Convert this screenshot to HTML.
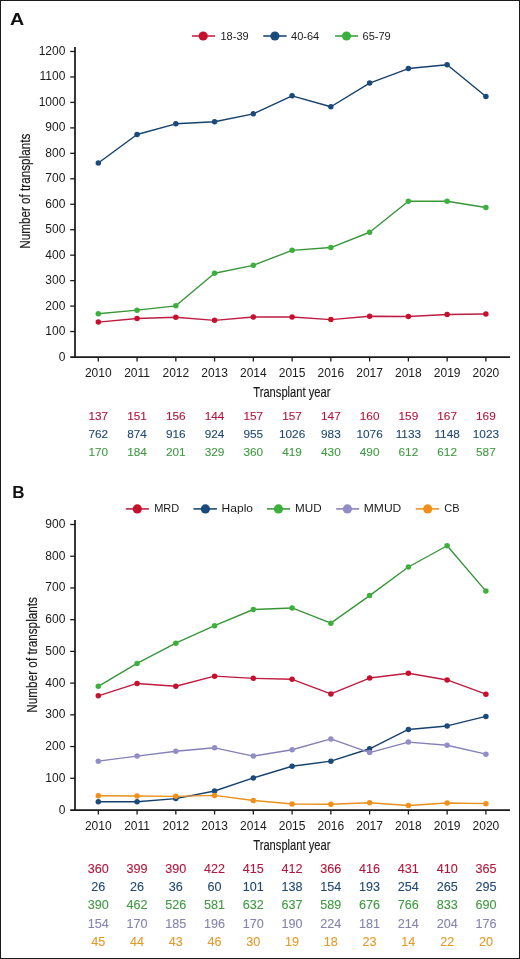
<!DOCTYPE html>
<html><head><meta charset="utf-8"><style>
html,body{margin:0;padding:0;background:#fff;}
body{width:520px;height:959px;overflow:hidden;}
svg{display:block;font-family:"Liberation Sans", sans-serif;will-change:transform;}
</style></head><body>
<svg width="520" height="959" viewBox="0 0 520 959">
<rect x="0.5" y="0.5" width="519" height="958" fill="#fff" stroke="#1a1a1a" stroke-width="1"/>
<text x="10.0" y="24.8" font-size="17" font-weight="bold" textLength="14.2" lengthAdjust="spacingAndGlyphs" fill="#111">A</text>
<line x1="192" y1="36" x2="215" y2="36" stroke="#bd1b40" stroke-width="1.7" stroke-opacity="0.9"/>
<circle cx="203.2" cy="36" r="4.6" fill="#c6102e"/>
<text x="220.5" y="39.8" font-size="11" fill="#1a1a1a">18-39</text>
<line x1="263.3" y1="36" x2="286.6" y2="36" stroke="#15406c" stroke-width="1.7" stroke-opacity="0.9"/>
<circle cx="274.9" cy="36" r="4.6" fill="#1a4a7c"/>
<text x="291.1" y="39.8" font-size="11" fill="#1a1a1a">40-64</text>
<line x1="335.1" y1="36" x2="358" y2="36" stroke="#389538" stroke-width="1.7" stroke-opacity="0.9"/>
<circle cx="346.5" cy="36" r="4.6" fill="#3cb03c"/>
<text x="362.6" y="39.8" font-size="11" fill="#1a1a1a">65-79</text>
<line x1="75" y1="47.1" x2="75" y2="357.9" stroke="#1a1a1a" stroke-width="1.75"/>
<line x1="70.2" y1="357.0" x2="510" y2="357.0" stroke="#1a1a1a" stroke-width="1.75"/>
<text x="65.4" y="360.50" font-size="12" text-anchor="end" fill="#1a1a1a">0</text>
<line x1="70.2" y1="331.54" x2="75" y2="331.54" stroke="#1a1a1a" stroke-width="1.3"/>
<text x="65.4" y="335.04" font-size="12" text-anchor="end" fill="#1a1a1a">100</text>
<line x1="70.2" y1="306.08" x2="75" y2="306.08" stroke="#1a1a1a" stroke-width="1.3"/>
<text x="65.4" y="309.58" font-size="12" text-anchor="end" fill="#1a1a1a">200</text>
<line x1="70.2" y1="280.62" x2="75" y2="280.62" stroke="#1a1a1a" stroke-width="1.3"/>
<text x="65.4" y="284.12" font-size="12" text-anchor="end" fill="#1a1a1a">300</text>
<line x1="70.2" y1="255.17" x2="75" y2="255.17" stroke="#1a1a1a" stroke-width="1.3"/>
<text x="65.4" y="258.67" font-size="12" text-anchor="end" fill="#1a1a1a">400</text>
<line x1="70.2" y1="229.71" x2="75" y2="229.71" stroke="#1a1a1a" stroke-width="1.3"/>
<text x="65.4" y="233.21" font-size="12" text-anchor="end" fill="#1a1a1a">500</text>
<line x1="70.2" y1="204.25" x2="75" y2="204.25" stroke="#1a1a1a" stroke-width="1.3"/>
<text x="65.4" y="207.75" font-size="12" text-anchor="end" fill="#1a1a1a">600</text>
<line x1="70.2" y1="178.79" x2="75" y2="178.79" stroke="#1a1a1a" stroke-width="1.3"/>
<text x="65.4" y="182.29" font-size="12" text-anchor="end" fill="#1a1a1a">700</text>
<line x1="70.2" y1="153.33" x2="75" y2="153.33" stroke="#1a1a1a" stroke-width="1.3"/>
<text x="65.4" y="156.83" font-size="12" text-anchor="end" fill="#1a1a1a">800</text>
<line x1="70.2" y1="127.88" x2="75" y2="127.88" stroke="#1a1a1a" stroke-width="1.3"/>
<text x="65.4" y="131.38" font-size="12" text-anchor="end" fill="#1a1a1a">900</text>
<line x1="70.2" y1="102.42" x2="75" y2="102.42" stroke="#1a1a1a" stroke-width="1.3"/>
<text x="65.4" y="105.92" font-size="12" text-anchor="end" fill="#1a1a1a">1000</text>
<line x1="70.2" y1="76.96" x2="75" y2="76.96" stroke="#1a1a1a" stroke-width="1.3"/>
<text x="65.4" y="80.46" font-size="12" text-anchor="end" fill="#1a1a1a">1100</text>
<line x1="70.2" y1="51.50" x2="75" y2="51.50" stroke="#1a1a1a" stroke-width="1.3"/>
<text x="65.4" y="55.00" font-size="12" text-anchor="end" fill="#1a1a1a">1200</text>
<line x1="98.30" y1="357.0" x2="98.30" y2="361.5" stroke="#1a1a1a" stroke-width="1.3"/>
<text x="98.30" y="376.7" font-size="12" text-anchor="middle" fill="#1a1a1a">2010</text>
<line x1="137.06" y1="357.0" x2="137.06" y2="361.5" stroke="#1a1a1a" stroke-width="1.3"/>
<text x="137.06" y="376.7" font-size="12" text-anchor="middle" fill="#1a1a1a">2011</text>
<line x1="175.82" y1="357.0" x2="175.82" y2="361.5" stroke="#1a1a1a" stroke-width="1.3"/>
<text x="175.82" y="376.7" font-size="12" text-anchor="middle" fill="#1a1a1a">2012</text>
<line x1="214.58" y1="357.0" x2="214.58" y2="361.5" stroke="#1a1a1a" stroke-width="1.3"/>
<text x="214.58" y="376.7" font-size="12" text-anchor="middle" fill="#1a1a1a">2013</text>
<line x1="253.34" y1="357.0" x2="253.34" y2="361.5" stroke="#1a1a1a" stroke-width="1.3"/>
<text x="253.34" y="376.7" font-size="12" text-anchor="middle" fill="#1a1a1a">2014</text>
<line x1="292.10" y1="357.0" x2="292.10" y2="361.5" stroke="#1a1a1a" stroke-width="1.3"/>
<text x="292.10" y="376.7" font-size="12" text-anchor="middle" fill="#1a1a1a">2015</text>
<line x1="330.86" y1="357.0" x2="330.86" y2="361.5" stroke="#1a1a1a" stroke-width="1.3"/>
<text x="330.86" y="376.7" font-size="12" text-anchor="middle" fill="#1a1a1a">2016</text>
<line x1="369.62" y1="357.0" x2="369.62" y2="361.5" stroke="#1a1a1a" stroke-width="1.3"/>
<text x="369.62" y="376.7" font-size="12" text-anchor="middle" fill="#1a1a1a">2017</text>
<line x1="408.38" y1="357.0" x2="408.38" y2="361.5" stroke="#1a1a1a" stroke-width="1.3"/>
<text x="408.38" y="376.7" font-size="12" text-anchor="middle" fill="#1a1a1a">2018</text>
<line x1="447.14" y1="357.0" x2="447.14" y2="361.5" stroke="#1a1a1a" stroke-width="1.3"/>
<text x="447.14" y="376.7" font-size="12" text-anchor="middle" fill="#1a1a1a">2019</text>
<line x1="485.90" y1="357.0" x2="485.90" y2="361.5" stroke="#1a1a1a" stroke-width="1.3"/>
<text x="485.90" y="376.7" font-size="12" text-anchor="middle" fill="#1a1a1a">2020</text>
<text x="253.3" y="396.6" font-size="14" textLength="77.1" lengthAdjust="spacingAndGlyphs" fill="#1a1a1a" stroke="#1a1a1a" stroke-width="0.15">Transplant year</text>
<text transform="translate(29.6,248.75) rotate(-90)" x="0" y="0" font-size="15.3" textLength="115.00" lengthAdjust="spacingAndGlyphs" fill="#1a1a1a" stroke="#1a1a1a" stroke-width="0.2">Number of transplants</text>
<polyline points="98.30,322.12 137.06,318.56 175.82,317.29 214.58,320.34 253.34,317.03 292.10,317.03 330.86,319.58 369.62,316.27 408.38,316.52 447.14,314.48 485.90,313.98" fill="none" stroke="#bd1b40" stroke-width="1.4" stroke-linejoin="round"/>
<circle cx="98.30" cy="322.12" r="2.75" fill="#c6102e"/>
<circle cx="137.06" cy="318.56" r="2.75" fill="#c6102e"/>
<circle cx="175.82" cy="317.29" r="2.75" fill="#c6102e"/>
<circle cx="214.58" cy="320.34" r="2.75" fill="#c6102e"/>
<circle cx="253.34" cy="317.03" r="2.75" fill="#c6102e"/>
<circle cx="292.10" cy="317.03" r="2.75" fill="#c6102e"/>
<circle cx="330.86" cy="319.58" r="2.75" fill="#c6102e"/>
<circle cx="369.62" cy="316.27" r="2.75" fill="#c6102e"/>
<circle cx="408.38" cy="316.52" r="2.75" fill="#c6102e"/>
<circle cx="447.14" cy="314.48" r="2.75" fill="#c6102e"/>
<circle cx="485.90" cy="313.98" r="2.75" fill="#c6102e"/>
<polyline points="98.30,163.01 137.06,134.49 175.82,123.80 214.58,121.77 253.34,113.87 292.10,95.80 330.86,106.74 369.62,83.07 408.38,68.56 447.14,64.74 485.90,96.56" fill="none" stroke="#15406c" stroke-width="1.4" stroke-linejoin="round"/>
<circle cx="98.30" cy="163.01" r="2.75" fill="#1a4a7c"/>
<circle cx="137.06" cy="134.49" r="2.75" fill="#1a4a7c"/>
<circle cx="175.82" cy="123.80" r="2.75" fill="#1a4a7c"/>
<circle cx="214.58" cy="121.77" r="2.75" fill="#1a4a7c"/>
<circle cx="253.34" cy="113.87" r="2.75" fill="#1a4a7c"/>
<circle cx="292.10" cy="95.80" r="2.75" fill="#1a4a7c"/>
<circle cx="330.86" cy="106.74" r="2.75" fill="#1a4a7c"/>
<circle cx="369.62" cy="83.07" r="2.75" fill="#1a4a7c"/>
<circle cx="408.38" cy="68.56" r="2.75" fill="#1a4a7c"/>
<circle cx="447.14" cy="64.74" r="2.75" fill="#1a4a7c"/>
<circle cx="485.90" cy="96.56" r="2.75" fill="#1a4a7c"/>
<polyline points="98.30,313.72 137.06,310.16 175.82,305.83 214.58,273.24 253.34,265.35 292.10,250.33 330.86,247.53 369.62,232.25 408.38,201.19 447.14,201.19 485.90,207.56" fill="none" stroke="#389538" stroke-width="1.4" stroke-linejoin="round"/>
<circle cx="98.30" cy="313.72" r="2.75" fill="#3cb03c"/>
<circle cx="137.06" cy="310.16" r="2.75" fill="#3cb03c"/>
<circle cx="175.82" cy="305.83" r="2.75" fill="#3cb03c"/>
<circle cx="214.58" cy="273.24" r="2.75" fill="#3cb03c"/>
<circle cx="253.34" cy="265.35" r="2.75" fill="#3cb03c"/>
<circle cx="292.10" cy="250.33" r="2.75" fill="#3cb03c"/>
<circle cx="330.86" cy="247.53" r="2.75" fill="#3cb03c"/>
<circle cx="369.62" cy="232.25" r="2.75" fill="#3cb03c"/>
<circle cx="408.38" cy="201.19" r="2.75" fill="#3cb03c"/>
<circle cx="447.14" cy="201.19" r="2.75" fill="#3cb03c"/>
<circle cx="485.90" cy="207.56" r="2.75" fill="#3cb03c"/>
<text x="98.30" y="420.3" font-size="11.8" text-anchor="middle" fill="#b3153c" stroke="#b3153c" stroke-width="0.1">137</text>
<text x="137.06" y="420.3" font-size="11.8" text-anchor="middle" fill="#b3153c" stroke="#b3153c" stroke-width="0.1">151</text>
<text x="175.82" y="420.3" font-size="11.8" text-anchor="middle" fill="#b3153c" stroke="#b3153c" stroke-width="0.1">156</text>
<text x="214.58" y="420.3" font-size="11.8" text-anchor="middle" fill="#b3153c" stroke="#b3153c" stroke-width="0.1">144</text>
<text x="253.34" y="420.3" font-size="11.8" text-anchor="middle" fill="#b3153c" stroke="#b3153c" stroke-width="0.1">157</text>
<text x="292.10" y="420.3" font-size="11.8" text-anchor="middle" fill="#b3153c" stroke="#b3153c" stroke-width="0.1">157</text>
<text x="330.86" y="420.3" font-size="11.8" text-anchor="middle" fill="#b3153c" stroke="#b3153c" stroke-width="0.1">147</text>
<text x="369.62" y="420.3" font-size="11.8" text-anchor="middle" fill="#b3153c" stroke="#b3153c" stroke-width="0.1">160</text>
<text x="408.38" y="420.3" font-size="11.8" text-anchor="middle" fill="#b3153c" stroke="#b3153c" stroke-width="0.1">159</text>
<text x="447.14" y="420.3" font-size="11.8" text-anchor="middle" fill="#b3153c" stroke="#b3153c" stroke-width="0.1">167</text>
<text x="485.90" y="420.3" font-size="11.8" text-anchor="middle" fill="#b3153c" stroke="#b3153c" stroke-width="0.1">169</text>
<text x="98.30" y="438.4" font-size="11.8" text-anchor="middle" fill="#1f4872" stroke="#1f4872" stroke-width="0.1">762</text>
<text x="137.06" y="438.4" font-size="11.8" text-anchor="middle" fill="#1f4872" stroke="#1f4872" stroke-width="0.1">874</text>
<text x="175.82" y="438.4" font-size="11.8" text-anchor="middle" fill="#1f4872" stroke="#1f4872" stroke-width="0.1">916</text>
<text x="214.58" y="438.4" font-size="11.8" text-anchor="middle" fill="#1f4872" stroke="#1f4872" stroke-width="0.1">924</text>
<text x="253.34" y="438.4" font-size="11.8" text-anchor="middle" fill="#1f4872" stroke="#1f4872" stroke-width="0.1">955</text>
<text x="292.10" y="438.4" font-size="11.8" text-anchor="middle" fill="#1f4872" stroke="#1f4872" stroke-width="0.1">1026</text>
<text x="330.86" y="438.4" font-size="11.8" text-anchor="middle" fill="#1f4872" stroke="#1f4872" stroke-width="0.1">983</text>
<text x="369.62" y="438.4" font-size="11.8" text-anchor="middle" fill="#1f4872" stroke="#1f4872" stroke-width="0.1">1076</text>
<text x="408.38" y="438.4" font-size="11.8" text-anchor="middle" fill="#1f4872" stroke="#1f4872" stroke-width="0.1">1133</text>
<text x="447.14" y="438.4" font-size="11.8" text-anchor="middle" fill="#1f4872" stroke="#1f4872" stroke-width="0.1">1148</text>
<text x="485.90" y="438.4" font-size="11.8" text-anchor="middle" fill="#1f4872" stroke="#1f4872" stroke-width="0.1">1023</text>
<text x="98.30" y="456.4" font-size="11.8" text-anchor="middle" fill="#3f9a42" stroke="#3f9a42" stroke-width="0.1">170</text>
<text x="137.06" y="456.4" font-size="11.8" text-anchor="middle" fill="#3f9a42" stroke="#3f9a42" stroke-width="0.1">184</text>
<text x="175.82" y="456.4" font-size="11.8" text-anchor="middle" fill="#3f9a42" stroke="#3f9a42" stroke-width="0.1">201</text>
<text x="214.58" y="456.4" font-size="11.8" text-anchor="middle" fill="#3f9a42" stroke="#3f9a42" stroke-width="0.1">329</text>
<text x="253.34" y="456.4" font-size="11.8" text-anchor="middle" fill="#3f9a42" stroke="#3f9a42" stroke-width="0.1">360</text>
<text x="292.10" y="456.4" font-size="11.8" text-anchor="middle" fill="#3f9a42" stroke="#3f9a42" stroke-width="0.1">419</text>
<text x="330.86" y="456.4" font-size="11.8" text-anchor="middle" fill="#3f9a42" stroke="#3f9a42" stroke-width="0.1">430</text>
<text x="369.62" y="456.4" font-size="11.8" text-anchor="middle" fill="#3f9a42" stroke="#3f9a42" stroke-width="0.1">490</text>
<text x="408.38" y="456.4" font-size="11.8" text-anchor="middle" fill="#3f9a42" stroke="#3f9a42" stroke-width="0.1">612</text>
<text x="447.14" y="456.4" font-size="11.8" text-anchor="middle" fill="#3f9a42" stroke="#3f9a42" stroke-width="0.1">612</text>
<text x="485.90" y="456.4" font-size="11.8" text-anchor="middle" fill="#3f9a42" stroke="#3f9a42" stroke-width="0.1">587</text>
<text x="12.2" y="497.7" font-size="17" font-weight="bold" textLength="12.3" lengthAdjust="spacingAndGlyphs" fill="#111">B</text>
<line x1="125.8" y1="508.9" x2="148.9" y2="508.9" stroke="#bd1b40" stroke-width="1.7" stroke-opacity="0.9"/>
<circle cx="137.3" cy="508.9" r="4.6" fill="#c6102e"/>
<text x="154.2" y="512" font-size="11" fill="#1a1a1a">MRD</text>
<line x1="193.4" y1="508.9" x2="216.9" y2="508.9" stroke="#15406c" stroke-width="1.7" stroke-opacity="0.9"/>
<circle cx="205.4" cy="508.9" r="4.6" fill="#1a4a7c"/>
<text x="221.6" y="512" font-size="11" fill="#1a1a1a" textLength="31.4" lengthAdjust="spacingAndGlyphs">Haplo</text>
<line x1="266.9" y1="508.9" x2="290" y2="508.9" stroke="#389538" stroke-width="1.7" stroke-opacity="0.9"/>
<circle cx="278.5" cy="508.9" r="4.6" fill="#3cb03c"/>
<text x="295.0" y="512" font-size="11" fill="#1a1a1a" textLength="26.6" lengthAdjust="spacingAndGlyphs">MUD</text>
<line x1="336.2" y1="508.9" x2="359.2" y2="508.9" stroke="#8480b8" stroke-width="1.7" stroke-opacity="0.9"/>
<circle cx="347.4" cy="508.9" r="4.6" fill="#918dc6"/>
<text x="363.8" y="512" font-size="11" fill="#1a1a1a" textLength="37.5" lengthAdjust="spacingAndGlyphs">MMUD</text>
<line x1="415.8" y1="508.9" x2="439.2" y2="508.9" stroke="#e8901e" stroke-width="1.7" stroke-opacity="0.9"/>
<circle cx="427.7" cy="508.9" r="4.6" fill="#f0901a"/>
<text x="444.2" y="512" font-size="11" fill="#1a1a1a">CB</text>
<line x1="75" y1="520.1" x2="75" y2="810.9" stroke="#1a1a1a" stroke-width="1.75"/>
<line x1="70.2" y1="810.0" x2="510" y2="810.0" stroke="#1a1a1a" stroke-width="1.75"/>
<text x="65.4" y="813.50" font-size="12" text-anchor="end" fill="#1a1a1a">0</text>
<line x1="70.2" y1="778.28" x2="75" y2="778.28" stroke="#1a1a1a" stroke-width="1.3"/>
<text x="65.4" y="781.78" font-size="12" text-anchor="end" fill="#1a1a1a">100</text>
<line x1="70.2" y1="746.56" x2="75" y2="746.56" stroke="#1a1a1a" stroke-width="1.3"/>
<text x="65.4" y="750.06" font-size="12" text-anchor="end" fill="#1a1a1a">200</text>
<line x1="70.2" y1="714.83" x2="75" y2="714.83" stroke="#1a1a1a" stroke-width="1.3"/>
<text x="65.4" y="718.33" font-size="12" text-anchor="end" fill="#1a1a1a">300</text>
<line x1="70.2" y1="683.11" x2="75" y2="683.11" stroke="#1a1a1a" stroke-width="1.3"/>
<text x="65.4" y="686.61" font-size="12" text-anchor="end" fill="#1a1a1a">400</text>
<line x1="70.2" y1="651.39" x2="75" y2="651.39" stroke="#1a1a1a" stroke-width="1.3"/>
<text x="65.4" y="654.89" font-size="12" text-anchor="end" fill="#1a1a1a">500</text>
<line x1="70.2" y1="619.67" x2="75" y2="619.67" stroke="#1a1a1a" stroke-width="1.3"/>
<text x="65.4" y="623.17" font-size="12" text-anchor="end" fill="#1a1a1a">600</text>
<line x1="70.2" y1="587.94" x2="75" y2="587.94" stroke="#1a1a1a" stroke-width="1.3"/>
<text x="65.4" y="591.44" font-size="12" text-anchor="end" fill="#1a1a1a">700</text>
<line x1="70.2" y1="556.22" x2="75" y2="556.22" stroke="#1a1a1a" stroke-width="1.3"/>
<text x="65.4" y="559.72" font-size="12" text-anchor="end" fill="#1a1a1a">800</text>
<line x1="70.2" y1="524.50" x2="75" y2="524.50" stroke="#1a1a1a" stroke-width="1.3"/>
<text x="65.4" y="528.00" font-size="12" text-anchor="end" fill="#1a1a1a">900</text>
<line x1="98.30" y1="810.0" x2="98.30" y2="814.5" stroke="#1a1a1a" stroke-width="1.3"/>
<text x="98.30" y="829.8" font-size="12" text-anchor="middle" fill="#1a1a1a">2010</text>
<line x1="137.06" y1="810.0" x2="137.06" y2="814.5" stroke="#1a1a1a" stroke-width="1.3"/>
<text x="137.06" y="829.8" font-size="12" text-anchor="middle" fill="#1a1a1a">2011</text>
<line x1="175.82" y1="810.0" x2="175.82" y2="814.5" stroke="#1a1a1a" stroke-width="1.3"/>
<text x="175.82" y="829.8" font-size="12" text-anchor="middle" fill="#1a1a1a">2012</text>
<line x1="214.58" y1="810.0" x2="214.58" y2="814.5" stroke="#1a1a1a" stroke-width="1.3"/>
<text x="214.58" y="829.8" font-size="12" text-anchor="middle" fill="#1a1a1a">2013</text>
<line x1="253.34" y1="810.0" x2="253.34" y2="814.5" stroke="#1a1a1a" stroke-width="1.3"/>
<text x="253.34" y="829.8" font-size="12" text-anchor="middle" fill="#1a1a1a">2014</text>
<line x1="292.10" y1="810.0" x2="292.10" y2="814.5" stroke="#1a1a1a" stroke-width="1.3"/>
<text x="292.10" y="829.8" font-size="12" text-anchor="middle" fill="#1a1a1a">2015</text>
<line x1="330.86" y1="810.0" x2="330.86" y2="814.5" stroke="#1a1a1a" stroke-width="1.3"/>
<text x="330.86" y="829.8" font-size="12" text-anchor="middle" fill="#1a1a1a">2016</text>
<line x1="369.62" y1="810.0" x2="369.62" y2="814.5" stroke="#1a1a1a" stroke-width="1.3"/>
<text x="369.62" y="829.8" font-size="12" text-anchor="middle" fill="#1a1a1a">2017</text>
<line x1="408.38" y1="810.0" x2="408.38" y2="814.5" stroke="#1a1a1a" stroke-width="1.3"/>
<text x="408.38" y="829.8" font-size="12" text-anchor="middle" fill="#1a1a1a">2018</text>
<line x1="447.14" y1="810.0" x2="447.14" y2="814.5" stroke="#1a1a1a" stroke-width="1.3"/>
<text x="447.14" y="829.8" font-size="12" text-anchor="middle" fill="#1a1a1a">2019</text>
<line x1="485.90" y1="810.0" x2="485.90" y2="814.5" stroke="#1a1a1a" stroke-width="1.3"/>
<text x="485.90" y="829.8" font-size="12" text-anchor="middle" fill="#1a1a1a">2020</text>
<text x="253.3" y="849.6" font-size="14" textLength="77.1" lengthAdjust="spacingAndGlyphs" fill="#1a1a1a" stroke="#1a1a1a" stroke-width="0.15">Transplant year</text>
<text transform="translate(36.6,712.75) rotate(-90)" x="0" y="0" font-size="15.3" textLength="115.75" lengthAdjust="spacingAndGlyphs" fill="#1a1a1a" stroke="#1a1a1a" stroke-width="0.2">Number of transplants</text>
<polyline points="98.30,695.80 137.06,683.43 175.82,686.28 214.58,676.13 253.34,678.35 292.10,679.30 330.86,693.90 369.62,678.04 408.38,673.28 447.14,679.94 485.90,694.21" fill="none" stroke="#bd1b40" stroke-width="1.4" stroke-linejoin="round"/>
<circle cx="98.30" cy="695.80" r="2.75" fill="#c6102e"/>
<circle cx="137.06" cy="683.43" r="2.75" fill="#c6102e"/>
<circle cx="175.82" cy="686.28" r="2.75" fill="#c6102e"/>
<circle cx="214.58" cy="676.13" r="2.75" fill="#c6102e"/>
<circle cx="253.34" cy="678.35" r="2.75" fill="#c6102e"/>
<circle cx="292.10" cy="679.30" r="2.75" fill="#c6102e"/>
<circle cx="330.86" cy="693.90" r="2.75" fill="#c6102e"/>
<circle cx="369.62" cy="678.04" r="2.75" fill="#c6102e"/>
<circle cx="408.38" cy="673.28" r="2.75" fill="#c6102e"/>
<circle cx="447.14" cy="679.94" r="2.75" fill="#c6102e"/>
<circle cx="485.90" cy="694.21" r="2.75" fill="#c6102e"/>
<polyline points="98.30,801.75 137.06,801.75 175.82,798.58 214.58,790.97 253.34,777.96 292.10,766.22 330.86,761.15 369.62,748.78 408.38,729.43 447.14,725.94 485.90,716.42" fill="none" stroke="#15406c" stroke-width="1.4" stroke-linejoin="round"/>
<circle cx="98.30" cy="801.75" r="2.75" fill="#1a4a7c"/>
<circle cx="137.06" cy="801.75" r="2.75" fill="#1a4a7c"/>
<circle cx="175.82" cy="798.58" r="2.75" fill="#1a4a7c"/>
<circle cx="214.58" cy="790.97" r="2.75" fill="#1a4a7c"/>
<circle cx="253.34" cy="777.96" r="2.75" fill="#1a4a7c"/>
<circle cx="292.10" cy="766.22" r="2.75" fill="#1a4a7c"/>
<circle cx="330.86" cy="761.15" r="2.75" fill="#1a4a7c"/>
<circle cx="369.62" cy="748.78" r="2.75" fill="#1a4a7c"/>
<circle cx="408.38" cy="729.43" r="2.75" fill="#1a4a7c"/>
<circle cx="447.14" cy="725.94" r="2.75" fill="#1a4a7c"/>
<circle cx="485.90" cy="716.42" r="2.75" fill="#1a4a7c"/>
<polyline points="98.30,686.28 137.06,663.44 175.82,643.14 214.58,625.69 253.34,609.52 292.10,607.93 330.86,623.16 369.62,595.56 408.38,567.01 447.14,545.75 485.90,591.12" fill="none" stroke="#389538" stroke-width="1.4" stroke-linejoin="round"/>
<circle cx="98.30" cy="686.28" r="2.75" fill="#3cb03c"/>
<circle cx="137.06" cy="663.44" r="2.75" fill="#3cb03c"/>
<circle cx="175.82" cy="643.14" r="2.75" fill="#3cb03c"/>
<circle cx="214.58" cy="625.69" r="2.75" fill="#3cb03c"/>
<circle cx="253.34" cy="609.52" r="2.75" fill="#3cb03c"/>
<circle cx="292.10" cy="607.93" r="2.75" fill="#3cb03c"/>
<circle cx="330.86" cy="623.16" r="2.75" fill="#3cb03c"/>
<circle cx="369.62" cy="595.56" r="2.75" fill="#3cb03c"/>
<circle cx="408.38" cy="567.01" r="2.75" fill="#3cb03c"/>
<circle cx="447.14" cy="545.75" r="2.75" fill="#3cb03c"/>
<circle cx="485.90" cy="591.12" r="2.75" fill="#3cb03c"/>
<polyline points="98.30,761.15 137.06,756.07 175.82,751.31 214.58,747.82 253.34,756.07 292.10,749.73 330.86,738.94 369.62,752.58 408.38,742.11 447.14,745.29 485.90,754.17" fill="none" stroke="#8480b8" stroke-width="1.4" stroke-linejoin="round"/>
<circle cx="98.30" cy="761.15" r="2.75" fill="#918dc6"/>
<circle cx="137.06" cy="756.07" r="2.75" fill="#918dc6"/>
<circle cx="175.82" cy="751.31" r="2.75" fill="#918dc6"/>
<circle cx="214.58" cy="747.82" r="2.75" fill="#918dc6"/>
<circle cx="253.34" cy="756.07" r="2.75" fill="#918dc6"/>
<circle cx="292.10" cy="749.73" r="2.75" fill="#918dc6"/>
<circle cx="330.86" cy="738.94" r="2.75" fill="#918dc6"/>
<circle cx="369.62" cy="752.58" r="2.75" fill="#918dc6"/>
<circle cx="408.38" cy="742.11" r="2.75" fill="#918dc6"/>
<circle cx="447.14" cy="745.29" r="2.75" fill="#918dc6"/>
<circle cx="485.90" cy="754.17" r="2.75" fill="#918dc6"/>
<polyline points="98.30,795.73 137.06,796.04 175.82,796.36 214.58,795.41 253.34,800.48 292.10,803.97 330.86,804.29 369.62,802.70 408.38,805.56 447.14,803.02 485.90,803.66" fill="none" stroke="#e8901e" stroke-width="1.4" stroke-linejoin="round"/>
<circle cx="98.30" cy="795.73" r="2.75" fill="#f0901a"/>
<circle cx="137.06" cy="796.04" r="2.75" fill="#f0901a"/>
<circle cx="175.82" cy="796.36" r="2.75" fill="#f0901a"/>
<circle cx="214.58" cy="795.41" r="2.75" fill="#f0901a"/>
<circle cx="253.34" cy="800.48" r="2.75" fill="#f0901a"/>
<circle cx="292.10" cy="803.97" r="2.75" fill="#f0901a"/>
<circle cx="330.86" cy="804.29" r="2.75" fill="#f0901a"/>
<circle cx="369.62" cy="802.70" r="2.75" fill="#f0901a"/>
<circle cx="408.38" cy="805.56" r="2.75" fill="#f0901a"/>
<circle cx="447.14" cy="803.02" r="2.75" fill="#f0901a"/>
<circle cx="485.90" cy="803.66" r="2.75" fill="#f0901a"/>
<text x="98.30" y="873.0" font-size="12.6" text-anchor="middle" fill="#b3153c" stroke="#b3153c" stroke-width="0.1">360</text>
<text x="137.06" y="873.0" font-size="12.6" text-anchor="middle" fill="#b3153c" stroke="#b3153c" stroke-width="0.1">399</text>
<text x="175.82" y="873.0" font-size="12.6" text-anchor="middle" fill="#b3153c" stroke="#b3153c" stroke-width="0.1">390</text>
<text x="214.58" y="873.0" font-size="12.6" text-anchor="middle" fill="#b3153c" stroke="#b3153c" stroke-width="0.1">422</text>
<text x="253.34" y="873.0" font-size="12.6" text-anchor="middle" fill="#b3153c" stroke="#b3153c" stroke-width="0.1">415</text>
<text x="292.10" y="873.0" font-size="12.6" text-anchor="middle" fill="#b3153c" stroke="#b3153c" stroke-width="0.1">412</text>
<text x="330.86" y="873.0" font-size="12.6" text-anchor="middle" fill="#b3153c" stroke="#b3153c" stroke-width="0.1">366</text>
<text x="369.62" y="873.0" font-size="12.6" text-anchor="middle" fill="#b3153c" stroke="#b3153c" stroke-width="0.1">416</text>
<text x="408.38" y="873.0" font-size="12.6" text-anchor="middle" fill="#b3153c" stroke="#b3153c" stroke-width="0.1">431</text>
<text x="447.14" y="873.0" font-size="12.6" text-anchor="middle" fill="#b3153c" stroke="#b3153c" stroke-width="0.1">410</text>
<text x="485.90" y="873.0" font-size="12.6" text-anchor="middle" fill="#b3153c" stroke="#b3153c" stroke-width="0.1">365</text>
<text x="98.30" y="891.3" font-size="12.6" text-anchor="middle" fill="#1f4872" stroke="#1f4872" stroke-width="0.1">26</text>
<text x="137.06" y="891.3" font-size="12.6" text-anchor="middle" fill="#1f4872" stroke="#1f4872" stroke-width="0.1">26</text>
<text x="175.82" y="891.3" font-size="12.6" text-anchor="middle" fill="#1f4872" stroke="#1f4872" stroke-width="0.1">36</text>
<text x="214.58" y="891.3" font-size="12.6" text-anchor="middle" fill="#1f4872" stroke="#1f4872" stroke-width="0.1">60</text>
<text x="253.34" y="891.3" font-size="12.6" text-anchor="middle" fill="#1f4872" stroke="#1f4872" stroke-width="0.1">101</text>
<text x="292.10" y="891.3" font-size="12.6" text-anchor="middle" fill="#1f4872" stroke="#1f4872" stroke-width="0.1">138</text>
<text x="330.86" y="891.3" font-size="12.6" text-anchor="middle" fill="#1f4872" stroke="#1f4872" stroke-width="0.1">154</text>
<text x="369.62" y="891.3" font-size="12.6" text-anchor="middle" fill="#1f4872" stroke="#1f4872" stroke-width="0.1">193</text>
<text x="408.38" y="891.3" font-size="12.6" text-anchor="middle" fill="#1f4872" stroke="#1f4872" stroke-width="0.1">254</text>
<text x="447.14" y="891.3" font-size="12.6" text-anchor="middle" fill="#1f4872" stroke="#1f4872" stroke-width="0.1">265</text>
<text x="485.90" y="891.3" font-size="12.6" text-anchor="middle" fill="#1f4872" stroke="#1f4872" stroke-width="0.1">295</text>
<text x="98.30" y="909.4" font-size="12.6" text-anchor="middle" fill="#3f9a42" stroke="#3f9a42" stroke-width="0.1">390</text>
<text x="137.06" y="909.4" font-size="12.6" text-anchor="middle" fill="#3f9a42" stroke="#3f9a42" stroke-width="0.1">462</text>
<text x="175.82" y="909.4" font-size="12.6" text-anchor="middle" fill="#3f9a42" stroke="#3f9a42" stroke-width="0.1">526</text>
<text x="214.58" y="909.4" font-size="12.6" text-anchor="middle" fill="#3f9a42" stroke="#3f9a42" stroke-width="0.1">581</text>
<text x="253.34" y="909.4" font-size="12.6" text-anchor="middle" fill="#3f9a42" stroke="#3f9a42" stroke-width="0.1">632</text>
<text x="292.10" y="909.4" font-size="12.6" text-anchor="middle" fill="#3f9a42" stroke="#3f9a42" stroke-width="0.1">637</text>
<text x="330.86" y="909.4" font-size="12.6" text-anchor="middle" fill="#3f9a42" stroke="#3f9a42" stroke-width="0.1">589</text>
<text x="369.62" y="909.4" font-size="12.6" text-anchor="middle" fill="#3f9a42" stroke="#3f9a42" stroke-width="0.1">676</text>
<text x="408.38" y="909.4" font-size="12.6" text-anchor="middle" fill="#3f9a42" stroke="#3f9a42" stroke-width="0.1">766</text>
<text x="447.14" y="909.4" font-size="12.6" text-anchor="middle" fill="#3f9a42" stroke="#3f9a42" stroke-width="0.1">833</text>
<text x="485.90" y="909.4" font-size="12.6" text-anchor="middle" fill="#3f9a42" stroke="#3f9a42" stroke-width="0.1">690</text>
<text x="98.30" y="927.7" font-size="12.6" text-anchor="middle" fill="#8583b0" stroke="#8583b0" stroke-width="0.1">154</text>
<text x="137.06" y="927.7" font-size="12.6" text-anchor="middle" fill="#8583b0" stroke="#8583b0" stroke-width="0.1">170</text>
<text x="175.82" y="927.7" font-size="12.6" text-anchor="middle" fill="#8583b0" stroke="#8583b0" stroke-width="0.1">185</text>
<text x="214.58" y="927.7" font-size="12.6" text-anchor="middle" fill="#8583b0" stroke="#8583b0" stroke-width="0.1">196</text>
<text x="253.34" y="927.7" font-size="12.6" text-anchor="middle" fill="#8583b0" stroke="#8583b0" stroke-width="0.1">170</text>
<text x="292.10" y="927.7" font-size="12.6" text-anchor="middle" fill="#8583b0" stroke="#8583b0" stroke-width="0.1">190</text>
<text x="330.86" y="927.7" font-size="12.6" text-anchor="middle" fill="#8583b0" stroke="#8583b0" stroke-width="0.1">224</text>
<text x="369.62" y="927.7" font-size="12.6" text-anchor="middle" fill="#8583b0" stroke="#8583b0" stroke-width="0.1">181</text>
<text x="408.38" y="927.7" font-size="12.6" text-anchor="middle" fill="#8583b0" stroke="#8583b0" stroke-width="0.1">214</text>
<text x="447.14" y="927.7" font-size="12.6" text-anchor="middle" fill="#8583b0" stroke="#8583b0" stroke-width="0.1">204</text>
<text x="485.90" y="927.7" font-size="12.6" text-anchor="middle" fill="#8583b0" stroke="#8583b0" stroke-width="0.1">176</text>
<text x="98.30" y="945.7" font-size="12.6" text-anchor="middle" fill="#e39a2a" stroke="#e39a2a" stroke-width="0.1">45</text>
<text x="137.06" y="945.7" font-size="12.6" text-anchor="middle" fill="#e39a2a" stroke="#e39a2a" stroke-width="0.1">44</text>
<text x="175.82" y="945.7" font-size="12.6" text-anchor="middle" fill="#e39a2a" stroke="#e39a2a" stroke-width="0.1">43</text>
<text x="214.58" y="945.7" font-size="12.6" text-anchor="middle" fill="#e39a2a" stroke="#e39a2a" stroke-width="0.1">46</text>
<text x="253.34" y="945.7" font-size="12.6" text-anchor="middle" fill="#e39a2a" stroke="#e39a2a" stroke-width="0.1">30</text>
<text x="292.10" y="945.7" font-size="12.6" text-anchor="middle" fill="#e39a2a" stroke="#e39a2a" stroke-width="0.1">19</text>
<text x="330.86" y="945.7" font-size="12.6" text-anchor="middle" fill="#e39a2a" stroke="#e39a2a" stroke-width="0.1">18</text>
<text x="369.62" y="945.7" font-size="12.6" text-anchor="middle" fill="#e39a2a" stroke="#e39a2a" stroke-width="0.1">23</text>
<text x="408.38" y="945.7" font-size="12.6" text-anchor="middle" fill="#e39a2a" stroke="#e39a2a" stroke-width="0.1">14</text>
<text x="447.14" y="945.7" font-size="12.6" text-anchor="middle" fill="#e39a2a" stroke="#e39a2a" stroke-width="0.1">22</text>
<text x="485.90" y="945.7" font-size="12.6" text-anchor="middle" fill="#e39a2a" stroke="#e39a2a" stroke-width="0.1">20</text>
</svg>
</body></html>
